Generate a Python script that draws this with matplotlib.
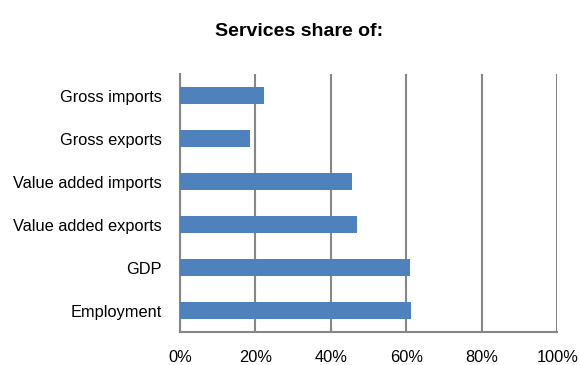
import matplotlib.pyplot as plt
from matplotlib.ticker import FuncFormatter

# datos
categorias = ['Gross imports', 'Gross exports', 'Value added imports',
              'Value added exports', 'GDP', 'Employment']
valores = [22.3, 18.6, 45.6, 47.0, 61.0, 61.2]
ticks_x = [0, 20, 40, 60, 80, 100]

plt.rcParams['font.family'] = ['Liberation Sans', 'DejaVu Sans']

fig = plt.figure(figsize=(5.8, 3.65), dpi=100)
ax = fig.add_axes([0.3103, 0.0904, 0.6508, 0.7066])

pos = list(range(len(categorias)))[::-1]
ax.barh(pos, valores, height=0.4, color='#4F81BD', zorder=3)

ax.set_xlim(0, 100)
ax.set_ylim(-0.5, 5.5)
ax.set_xticks(ticks_x)
ax.xaxis.set_major_formatter(FuncFormatter(lambda v, _: f'{int(v)}%'))
ax.set_yticks(pos)
ax.set_yticklabels(categorias)
ax.tick_params(axis='both', length=0, labelsize=11.8, colors='black')
ax.tick_params(axis='x', pad=13)
ax.tick_params(axis='y', pad=13)

ax.grid(axis='x', color='#868686', linewidth=1.5, zorder=0)
for lado in ['top', 'right']:
    ax.spines[lado].set_visible(False)
for lado in ['left', 'bottom']:
    ax.spines[lado].set_color('#868686')
    ax.spines[lado].set_linewidth(1.5)

fig.text(0.516, 0.915, 'Services share of:', ha='center', va='center',
         fontsize=14, fontweight='bold')

fig.savefig('out.png', dpi=100)
